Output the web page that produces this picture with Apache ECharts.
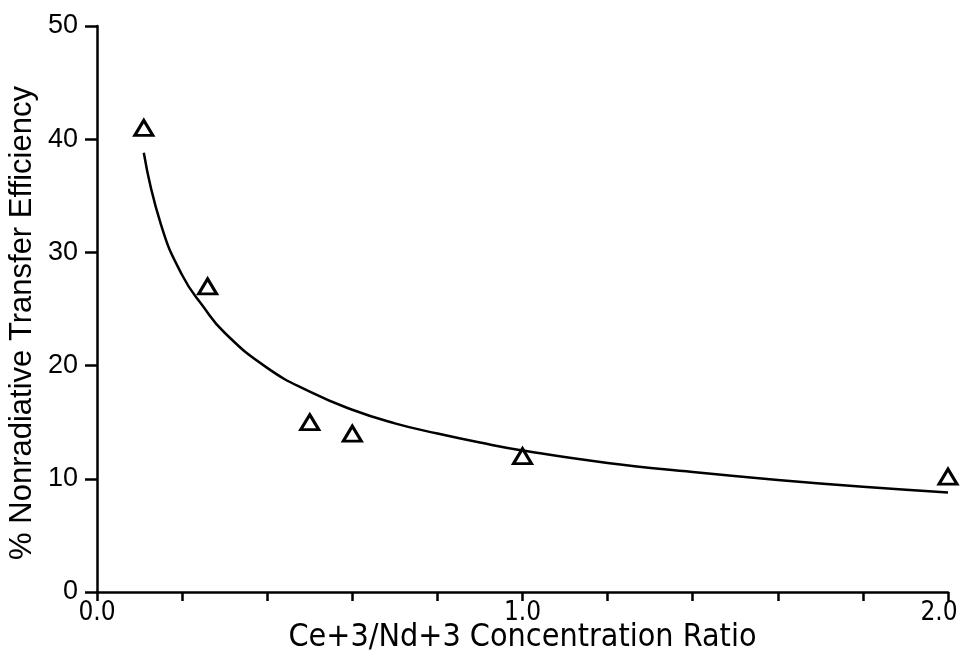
<!DOCTYPE html>
<html>
<head>
<meta charset="utf-8">
<script src="https://cdn.jsdelivr.net/npm/echarts@6/dist/echarts.min.js"></script>
<style>html,body{margin:0;padding:0;background:#fff;}#c{width:965px;height:658px;}</style>
</head>
<body>
<div id="c"></div>
<script>
// Measured data points (triangles)
const pointX = [0.11, 0.26, 0.5, 0.6, 1.0, 2.0];
const pointY = [41, 27, 15, 14, 12, 10.2];
// Curve
const curveX = [0.11, 0.15, 0.2, 0.25, 0.3, 0.4, 0.5, 0.6, 0.7, 0.8, 0.9, 1.0, 1.2, 1.4, 1.6, 1.8, 2.0];
const curveY = [38.8, 32.5, 28.0, 25.2, 22.9, 19.8, 17.7, 16.1, 14.9, 14.0, 13.2, 12.5, 11.4, 10.6, 9.9, 9.3, 8.8];
const xLabels = {0: '0.0', 1: '1.0', 2: '2.0'};

const narrow = 'DejaVu Sans Condensed, Liberation Sans Narrow, DejaVu Sans';
const chart = echarts.init(document.getElementById('c'), null, {renderer: 'canvas'});
chart.setOption({
  backgroundColor: '#fff',
  animation: false,
  grid: {left: 97, right: 17, top: 26, bottom: 66, containLabel: false, outerBoundsMode: 'none'},
  xAxis: {
    type: 'value', min: 0, max: 2, interval: 0.2,
    name: 'Ce+3/Nd+3 Concentration Ratio', nameLocation: 'middle', nameGap: 46, nameMoveOverlap: false,
    nameTextStyle: {fontFamily: narrow, fontSize: 32, color: '#000', verticalAlign: 'middle', lineHeight: 32},
    axisLine: {lineStyle: {color: '#000', width: 2.5}},
    axisTick: {show: true, length: 9, lineStyle: {color: '#000', width: 2.5}},
    axisLabel: {
      margin: 9, color: '#000', fontSize: 26, fontFamily: narrow, lineHeight: 24,
      formatter: v => {
        const r = Math.round(v * 10) / 10;
        if (Math.abs(r - Math.round(r)) > 1e-6 || xLabels[r] === undefined) return '';
        return r === 2 ? '{last|' + xLabels[r] + '}' : xLabels[r];
      },
      rich: {last: {fontSize: 26, fontFamily: narrow, color: '#000', padding: [0, 18, 0, 0]}}
    },
    splitLine: {show: false}
  },
  yAxis: {
    type: 'value', min: 0, max: 50, interval: 10,
    name: '% Nonradiative Transfer Efficiency', nameLocation: 'middle', nameGap: 75, nameMoveOverlap: false,
    nameTextStyle: {fontFamily: 'Liberation Sans', fontSize: 31, color: '#000', verticalAlign: 'middle', padding: [0, 28, 0, 0]},
    axisLine: {show: true, lineStyle: {color: '#000', width: 2.5}},
    axisTick: {show: true, length: 12, lineStyle: {color: '#000', width: 2.5}},
    axisLabel: {margin: 19, color: '#000', fontSize: 27, fontFamily: 'Liberation Sans'},
    splitLine: {show: false}
  },
  series: [
    {
      type: 'line', smooth: 0.5, showSymbol: false, symbol: 'none',
      data: curveX.map((x, i) => [x, curveY[i]]),
      lineStyle: {color: '#000', width: 2.5}
    },
    {
      type: 'scatter', symbol: 'triangle', symbolSize: [18, 15],
      data: pointX.map((x, i) => [x, pointY[i]]),
      itemStyle: {color: '#fff', borderColor: '#000', borderWidth: 3, opacity: 1}
    }
  ]
});
</script>
</body>
</html>
